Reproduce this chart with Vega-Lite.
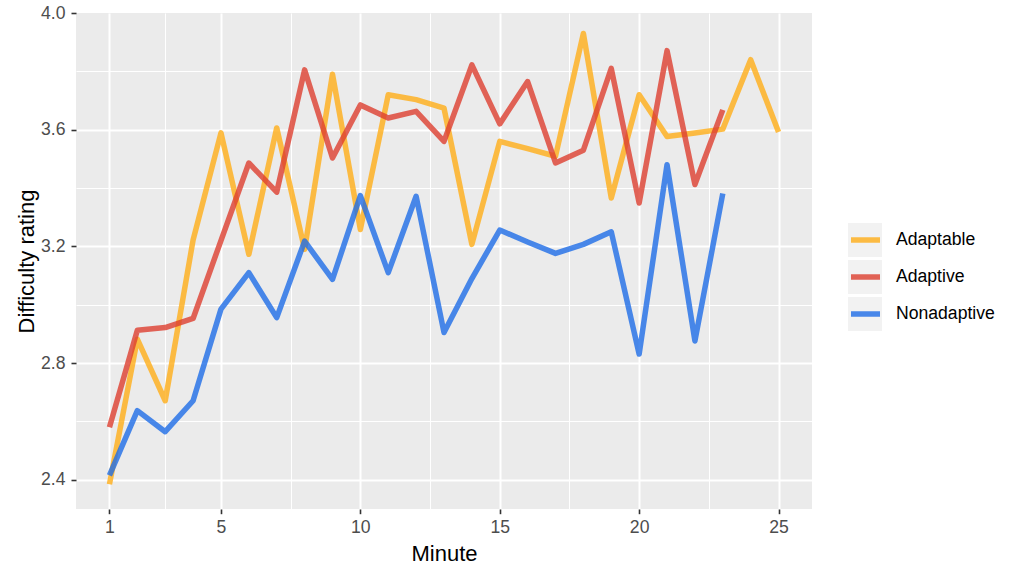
{
  "$schema": "https://vega.github.io/schema/vega-lite/v6.json",
  "width": 736,
  "height": 496,
  "autosize": {"type": "none"},
  "padding": {"left": 76, "top": 13, "right": 212, "bottom": 67},
  "background": "white",
  "config": {
    "view": {"fill": "#EBEBEB", "stroke": null},
    "font": "Liberation Sans",
    "axis": {
      "domain": false,
      "gridColor": "white",
      "tickColor": "#333333",
      "labelColor": "#4D4D4D",
      "labelFontSize": 17.6,
      "titleFontSize": 22,
      "titleFontWeight": "normal",
      "titleColor": "black"
    }
  },
  "data": {
    "values": [
      {"minute": 1, "series": "Adaptable", "rating": 2.385},
      {"minute": 2, "series": "Adaptable", "rating": 2.882},
      {"minute": 3, "series": "Adaptable", "rating": 2.671},
      {"minute": 4, "series": "Adaptable", "rating": 3.222},
      {"minute": 5, "series": "Adaptable", "rating": 3.589},
      {"minute": 6, "series": "Adaptable", "rating": 3.173},
      {"minute": 7, "series": "Adaptable", "rating": 3.606},
      {"minute": 8, "series": "Adaptable", "rating": 3.19},
      {"minute": 9, "series": "Adaptable", "rating": 3.79},
      {"minute": 10, "series": "Adaptable", "rating": 3.258},
      {"minute": 11, "series": "Adaptable", "rating": 3.72},
      {"minute": 12, "series": "Adaptable", "rating": 3.703},
      {"minute": 13, "series": "Adaptable", "rating": 3.674},
      {"minute": 14, "series": "Adaptable", "rating": 3.207},
      {"minute": 15, "series": "Adaptable", "rating": 3.56},
      {"minute": 16, "series": "Adaptable", "rating": 3.535},
      {"minute": 17, "series": "Adaptable", "rating": 3.509},
      {"minute": 18, "series": "Adaptable", "rating": 3.93},
      {"minute": 19, "series": "Adaptable", "rating": 3.366},
      {"minute": 20, "series": "Adaptable", "rating": 3.72},
      {"minute": 21, "series": "Adaptable", "rating": 3.577},
      {"minute": 22, "series": "Adaptable", "rating": 3.589},
      {"minute": 23, "series": "Adaptable", "rating": 3.602},
      {"minute": 24, "series": "Adaptable", "rating": 3.84},
      {"minute": 25, "series": "Adaptable", "rating": 3.592},
      {"minute": 1, "series": "Adaptive", "rating": 2.58},
      {"minute": 2, "series": "Adaptive", "rating": 2.913},
      {"minute": 3, "series": "Adaptive", "rating": 2.922},
      {"minute": 4, "series": "Adaptive", "rating": 2.953},
      {"minute": 5, "series": "Adaptive", "rating": 3.22},
      {"minute": 6, "series": "Adaptive", "rating": 3.486},
      {"minute": 7, "series": "Adaptive", "rating": 3.386},
      {"minute": 8, "series": "Adaptive", "rating": 3.805},
      {"minute": 9, "series": "Adaptive", "rating": 3.503},
      {"minute": 10, "series": "Adaptive", "rating": 3.685},
      {"minute": 11, "series": "Adaptive", "rating": 3.64},
      {"minute": 12, "series": "Adaptive", "rating": 3.663},
      {"minute": 13, "series": "Adaptive", "rating": 3.56},
      {"minute": 14, "series": "Adaptive", "rating": 3.822},
      {"minute": 15, "series": "Adaptive", "rating": 3.62},
      {"minute": 16, "series": "Adaptive", "rating": 3.765},
      {"minute": 17, "series": "Adaptive", "rating": 3.486},
      {"minute": 18, "series": "Adaptive", "rating": 3.53},
      {"minute": 19, "series": "Adaptive", "rating": 3.81},
      {"minute": 20, "series": "Adaptive", "rating": 3.349},
      {"minute": 21, "series": "Adaptive", "rating": 3.871},
      {"minute": 22, "series": "Adaptive", "rating": 3.412},
      {"minute": 23, "series": "Adaptive", "rating": 3.668},
      {"minute": 1, "series": "Nonadaptive", "rating": 2.415},
      {"minute": 2, "series": "Nonadaptive", "rating": 2.637},
      {"minute": 3, "series": "Nonadaptive", "rating": 2.565},
      {"minute": 4, "series": "Nonadaptive", "rating": 2.671},
      {"minute": 5, "series": "Nonadaptive", "rating": 2.985},
      {"minute": 6, "series": "Nonadaptive", "rating": 3.11},
      {"minute": 7, "series": "Nonadaptive", "rating": 2.956},
      {"minute": 8, "series": "Nonadaptive", "rating": 3.218},
      {"minute": 9, "series": "Nonadaptive", "rating": 3.087},
      {"minute": 10, "series": "Nonadaptive", "rating": 3.374},
      {"minute": 11, "series": "Nonadaptive", "rating": 3.11},
      {"minute": 12, "series": "Nonadaptive", "rating": 3.372},
      {"minute": 13, "series": "Nonadaptive", "rating": 2.905},
      {"minute": 14, "series": "Nonadaptive", "rating": 3.09},
      {"minute": 15, "series": "Nonadaptive", "rating": 3.256},
      {"minute": 16, "series": "Nonadaptive", "rating": 3.215},
      {"minute": 17, "series": "Nonadaptive", "rating": 3.176},
      {"minute": 18, "series": "Nonadaptive", "rating": 3.207},
      {"minute": 19, "series": "Nonadaptive", "rating": 3.25},
      {"minute": 20, "series": "Nonadaptive", "rating": 2.831},
      {"minute": 21, "series": "Nonadaptive", "rating": 3.48},
      {"minute": 22, "series": "Nonadaptive", "rating": 2.876},
      {"minute": 23, "series": "Nonadaptive", "rating": 3.381}
    ]
  },
  "encoding": {
    "x": {
      "field": "minute",
      "type": "quantitative",
      "scale": {"domain": [-0.2, 26.2], "nice": false, "zero": false},
      "axis": {
        "title": "Minute",
        "values": [1, 3, 5, 7.5, 10, 12.5, 15, 17.5, 20, 22.5, 25],
        "labelExpr": "indexof([1,5,10,15,20,25], datum.value) >= 0 ? format(datum.value, 'd') : ''",
        "gridWidth": {"condition": {"test": "indexof([1,5,10,15,20,25], datum.value) >= 0", "value": 2}, "value": 1},
        "tickWidth": {"condition": {"test": "indexof([1,5,10,15,20,25], datum.value) >= 0", "value": 1.6}, "value": 0},
        "tickOpacity": {"condition": {"test": "indexof([1,5,10,15,20,25], datum.value) >= 0", "value": 1}, "value": 0},
        "tickSize": 4.7,
        "labelPadding": 5,
        "labelFlush": false,
        "labelOverlap": false,
        "titleX": 368,
        "titleY": 51,
        "titleBaseline": "alphabetic"
      }
    },
    "y": {
      "field": "rating",
      "type": "quantitative",
      "scale": {"domain": [2.3, 4.0], "nice": false, "zero": false},
      "axis": {
        "title": "Difficulty rating",
        "values": [2.4, 2.6, 2.8, 3.0, 3.2, 3.4, 3.6, 3.8, 4.0],
        "labelExpr": "round(datum.value * 10) % 4 == 0 ? format(datum.value, '.1f') : ''",
        "gridWidth": {"condition": {"test": "round(datum.value * 10) % 4 == 0", "value": 2}, "value": 1},
        "gridOpacity": {"condition": {"test": "datum.value > 3.9", "value": 0}, "value": 1},
        "tickWidth": {"condition": {"test": "round(datum.value * 10) % 4 == 0", "value": 1.6}, "value": 0},
        "tickOpacity": {"condition": {"test": "round(datum.value * 10) % 4 == 0", "value": 1}, "value": 0},
        "tickSize": 5,
        "labelPadding": 6,
        "labelFlush": false,
        "labelOverlap": false,
        "titleX": -43,
        "titleY": 248,
        "titleAngle": -90,
        "titleBaseline": "alphabetic",
        "titleAlign": "center"
      }
    }
  },
  "layer": [
    {
      "transform": [{"filter": "datum.minute > 100"}],
      "mark": {"type": "square"},
      "encoding": {
        "fill": {
          "field": "series",
          "type": "nominal",
          "scale": {"domain": ["Adaptable", "Adaptive", "Nonadaptive"], "range": ["#F2F2F2", "#F2F2F2", "#F2F2F2"]},
          "legend": {
            "title": null,
            "orient": "none",
            "legendX": 772,
            "legendY": 210,
            "symbolType": "square",
            "symbolSize": 1156,
            "symbolStrokeWidth": 0,
            "symbolOpacity": 1,
            "labelOpacity": 0,
            "labelFontSize": 17.6,
            "labelOffset": 13,
            "clipHeight": 34,
            "rowPadding": 3,
            "padding": 0,
            "zindex": 0
          }
        }
      }
    },
    {
      "mark": {"type": "line", "strokeWidth": 5.5, "opacity": 0.8, "strokeCap": "butt", "strokeJoin": "round"},
      "encoding": {
        "color": {
          "field": "series",
          "type": "nominal",
          "scale": {"range": ["#FFAE18", "#DD3F2F", "#1E6DE7"]},
          "legend": {
            "title": null,
            "orient": "none",
            "legendX": 772,
            "legendY": 210,
            "symbolType": "stroke",
            "symbolSize": 841,
            "symbolStrokeWidth": 5.5,
            "symbolOpacity": 0.8,
            "labelFontSize": 17.6,
            "labelColor": "black",
            "labelOffset": 13,
            "clipHeight": 34,
            "rowPadding": 3,
            "padding": 0,
            "zindex": 1
          }
        }
      }
    }
  ]
}
